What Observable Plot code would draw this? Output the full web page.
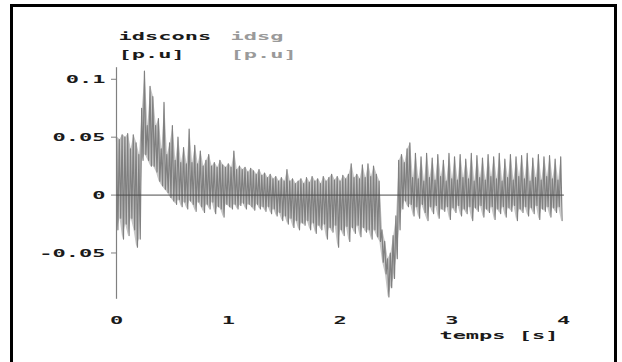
<!DOCTYPE html>
<html><head><meta charset="utf-8">
<script src="https://cdn.jsdelivr.net/npm/d3@7"></script>
<script src="https://cdn.jsdelivr.net/npm/@observablehq/plot@0.6"></script>
<style>
html,body{margin:0;padding:0;background:#fff;overflow:hidden;}
#wrap{position:relative;width:622px;height:362px;overflow:hidden;background:#fff;}
#frame{position:absolute;left:0;top:0;}
#chart{position:absolute;left:0;top:0;}
</style></head>
<body>
<div id="wrap">
<svg id="frame" width="622" height="362"><path d="M11.5,380V5.5H615.5V380" fill="none" stroke="#000" stroke-width="3"/></svg>
<div id="chart"></div></div>
<script>
// time base of the sampled envelope (s)
const dt = 0.025;
// idsg : upper excursion in each 0.025 s slot [p.u]
const idsgHigh = [
0.050,0.048,0.052,0.050,0.053,0.040,0.052,0.045,0.035,0.075,
0.107,0.060,0.094,0.085,0.060,0.066,0.040,0.080,0.035,0.045,
0.060,0.030,0.050,0.028,0.041,0.027,0.057,0.028,0.043,0.027,
0.038,0.025,0.030,0.035,0.025,0.028,0.024,0.030,0.026,0.024,
0.027,0.024,0.038,0.022,0.025,0.022,0.024,0.020,0.023,0.021,
0.018,0.022,0.017,0.019,0.015,0.018,0.014,0.016,0.012,0.015,
0.012,0.022,0.012,0.014,0.010,0.012,0.014,0.010,0.015,0.011,
0.016,0.012,0.014,0.010,0.016,0.012,0.015,0.018,0.013,0.016,
0.012,0.017,0.014,0.018,0.027,0.015,0.018,0.014,0.026,0.015,
0.027,0.016,0.025,0.018,0.012,-0.030,-0.040,-0.055,-0.050,-0.035,
-0.018,0.030,0.035,0.028,0.040,0.045,0.015,0.036,0.014,0.033,
0.012,0.036,0.015,0.032,0.013,0.035,0.016,0.030,0.012,0.036,
0.014,0.033,0.013,0.035,0.015,0.031,0.014,0.036,0.012,0.034,
0.015,0.032,0.013,0.035,0.016,0.033,0.014,0.036,0.012,0.031,
0.015,0.035,0.013,0.033,0.016,0.034,0.014,0.036,0.012,0.032,
0.015,0.035,0.013,0.033,0.016,0.034,0.014,0.031,0.013,0.033
];
// idsg : lower excursion in each 0.025 s slot [p.u]
const idsgLow = [
-0.030,-0.020,-0.038,-0.025,-0.035,-0.020,-0.030,-0.045,-0.038,0.030,
0.035,0.030,0.025,0.025,0.020,0.012,0.008,0.005,0.002,-0.002,
-0.005,-0.008,-0.004,-0.010,-0.006,-0.012,-0.005,-0.008,-0.014,-0.006,
-0.010,-0.015,-0.008,-0.012,-0.006,-0.016,-0.010,-0.012,-0.019,-0.008,
-0.010,-0.012,-0.008,-0.012,-0.009,-0.007,-0.012,-0.008,-0.010,-0.013,
-0.008,-0.012,-0.010,-0.014,-0.010,-0.016,-0.012,-0.018,-0.015,-0.022,
-0.018,-0.025,-0.020,-0.028,-0.022,-0.030,-0.024,-0.026,-0.022,-0.030,
-0.024,-0.033,-0.026,-0.030,-0.025,-0.038,-0.028,-0.032,-0.026,-0.045,
-0.030,-0.035,-0.027,-0.040,-0.028,-0.033,-0.026,-0.036,-0.028,-0.032,
-0.030,-0.038,-0.030,-0.036,-0.040,-0.058,-0.068,-0.088,-0.080,-0.072,
-0.055,-0.030,-0.012,-0.005,-0.010,-0.008,-0.018,-0.010,-0.020,-0.008,
-0.015,-0.022,-0.010,-0.016,-0.009,-0.020,-0.012,-0.014,-0.010,-0.021,
-0.011,-0.015,-0.009,-0.018,-0.012,-0.016,-0.010,-0.022,-0.011,-0.014,
-0.009,-0.019,-0.012,-0.015,-0.010,-0.021,-0.012,-0.016,-0.010,-0.019,
-0.011,-0.014,-0.009,-0.022,-0.012,-0.015,-0.010,-0.018,-0.011,-0.016,
-0.009,-0.021,-0.012,-0.014,-0.010,-0.019,-0.011,-0.015,-0.010,-0.022
];
// idscons : reference (constant zero)
const consT = [0, 4];
const consV = [0, 0];
const xTicks = [0, 1, 2, 3, 4];
const yTicks = [-0.05, 0, 0.05, 0.1];
const titles = ["idscons", "idsg"];
const units = ["[p.u]", "[p.u]"];
const xLabel = "temps [s]";

const idsg = [];
idsgHigh.forEach((h, i) => {
  idsg.push({t: i * dt, v: h});
  idsg.push({t: i * dt + dt / 2, v: idsgLow[i]});
});
const envelope = idsgHigh.map((h, i) => ({t: i * dt + dt / 4, hi: h, lo: idsgLow[i]}));
const cons = consT.map((t, i) => ({t, v: consV[i]}));

const chart = Plot.plot({
  width: 622, height: 362,
  marginLeft: 116, marginRight: 59, marginTop: 67.2, marginBottom: 63.2,
  x: {domain: [0, 4]},
  y: {domain: [-0.09, 0.11]},
  style: {background: "transparent", fontFamily: "DejaVu Sans Mono", fontSize: "11px", fontWeight: "bold", color: "#1a1a1a"},
  marks: [
    Plot.areaY(envelope, {x: "t", y1: "lo", y2: "hi", fill: "#c6c6c6"}),
    Plot.ruleX([0], {stroke: "#808080", strokeWidth: 1.2}),
    Plot.line(idsg, {x: "t", y: "v", stroke: "#808080", strokeWidth: 1.2}),
    Plot.line(cons, {x: "t", y: "v", stroke: "#4a4a4a", strokeWidth: 1}),
    Plot.axisY(yTicks, {tickSize: 5, tickPadding: 6, tickFormat: d => String(d), stroke: "#808080", label: null}),
    Plot.axisX(xTicks, {tickSize: 0, tickPadding: 17, tickFormat: d => String(d), label: null}),
    Plot.text([titles[0]], {frameAnchor: "top-left", textAnchor: "start", dx: 2, dy: -35.7, fill: "#1a1a1a"}),
    Plot.text([units[0]], {frameAnchor: "top-left", textAnchor: "start", dx: 2, dy: -17.7, fill: "#1a1a1a"}),
    Plot.text([titles[1]], {frameAnchor: "top-left", textAnchor: "start", dx: 114, dy: -35.7, fill: "#9a9a9a"}),
    Plot.text([units[1]], {frameAnchor: "top-left", textAnchor: "start", dx: 114, dy: -17.7, fill: "#9a9a9a"}),
    Plot.text([xLabel], {frameAnchor: "bottom-right", textAnchor: "end", dx: -5, dy: 39.7, fill: "#1a1a1a"})
  ]
});
chart.querySelectorAll("text").forEach(t => {
  const tr = t.getAttribute("transform") || "";
  t.setAttribute("transform", tr + " scale(2,1)");
});
document.getElementById("chart").appendChild(chart);
</script>
</body></html>
